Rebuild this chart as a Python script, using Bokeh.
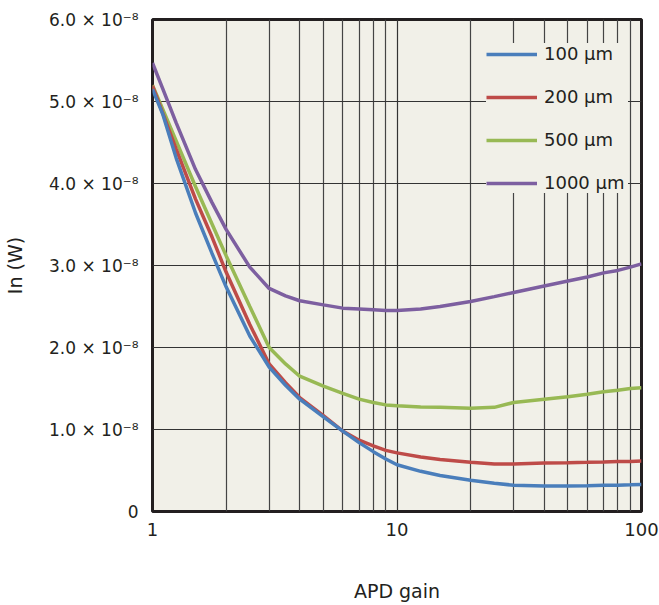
from bokeh.plotting import figure
from bokeh.models import FixedTicker, Legend, LegendItem, Range1d
from bokeh.embed import file_html
from bokeh.resources import INLINE

# APD gain (x, log axis)
gain = [1, 1.1, 1.25, 1.5, 1.75, 2, 2.5, 3, 3.5, 4, 5, 6, 7, 8, 9, 10,
        12.5, 15, 20, 25, 30, 40, 50, 60, 70, 80, 90, 100]

# Noise In, in units of 1e-8 W
in_100um = [5.15, 4.85, 4.31, 3.64, 3.15, 2.74, 2.14, 1.76, 1.54, 1.37, 1.155, 0.98,
            0.84, 0.73, 0.64, 0.57, 0.49, 0.44, 0.38, 0.345, 0.32, 0.31, 0.31, 0.315,
            0.32, 0.32, 0.325, 0.33]
in_200um = [5.19, 4.86, 4.42, 3.81, 3.35, 2.92, 2.28, 1.80, 1.57, 1.39, 1.17, 0.98,
            0.87, 0.80, 0.745, 0.715, 0.665, 0.635, 0.60, 0.58, 0.58, 0.59, 0.595,
            0.60, 0.605, 0.61, 0.61, 0.615]
in_500um = [5.2, 4.91, 4.52, 3.96, 3.51, 3.12, 2.50, 2.0, 1.80, 1.65, 1.53, 1.44,
            1.37, 1.33, 1.30, 1.29, 1.275, 1.27, 1.26, 1.27, 1.33, 1.37, 1.40, 1.43,
            1.46, 1.48, 1.50, 1.51]
in_1000um = [5.47, 5.16, 4.74, 4.17, 3.77, 3.44, 2.98, 2.72, 2.63, 2.57, 2.52, 2.48,
             2.47, 2.46, 2.45, 2.45, 2.47, 2.50, 2.56, 2.62, 2.67, 2.75, 2.81, 2.86,
             2.91, 2.94, 2.98, 3.02]

series_labels = ["100 µm", "200 µm", "500 µm", "1000 µm"]
series_values = [in_100um, in_200um, in_500um, in_1000um]
series_colors = ["#4a7ebb", "#be4b48", "#98b954", "#7d5fa0"]

y_ticks = [0, 1, 2, 3, 4, 5, 6]
y_tick_labels = ["0", "1.0 × 10⁻⁸", "2.0 × 10⁻⁸", "3.0 × 10⁻⁸",
                 "4.0 × 10⁻⁸", "5.0 × 10⁻⁸", "6.0 × 10⁻⁸"]
x_ticks = [1, 10, 100]
x_tick_labels = ["1", "10", "100"]
x_minor_ticks = [2, 3, 4, 5, 6, 7, 8, 9, 20, 30, 40, 50, 60, 70, 80, 90]

FONT = "DejaVu Sans"
BG = "#f1f0e8"
TXT = "#231f20"

p = figure(width=659, height=605, x_axis_type="log",
           x_range=Range1d(1, 100), y_range=Range1d(0, 6),
           output_backend="svg", toolbar_location=None,
           min_border_left=150, min_border_right=18,
           min_border_top=19, min_border_bottom=94)

p.background_fill_color = BG
p.border_fill_color = "white"
p.outline_line_color = TXT
p.outline_line_width = 3

# grids
p.xaxis.ticker = FixedTicker(ticks=x_ticks, minor_ticks=x_minor_ticks)
p.yaxis.ticker = FixedTicker(ticks=y_ticks)
p.xgrid.grid_line_color = "#333333"
p.xgrid.grid_line_width = 1.2
p.xgrid.minor_grid_line_color = "#444444"
p.xgrid.minor_grid_line_width = 1.2
p.ygrid.grid_line_color = "#333333"
p.ygrid.grid_line_width = 1.2

# axes
for ax in (p.xaxis, p.yaxis):
    ax.axis_line_color = None
    ax.major_tick_line_color = None
    ax.minor_tick_line_color = None
    ax.major_label_text_font = FONT
    ax.major_label_text_color = TXT
    ax.axis_label_text_font = FONT
    ax.axis_label_text_font_size = "19px"
    ax.axis_label_text_font_style = "normal"
    ax.axis_label_text_color = TXT

p.xaxis.major_label_text_font_size = "18px"
p.yaxis.major_label_text_font_size = "17px"
p.xaxis.major_label_overrides = {t: l for t, l in zip(x_ticks, x_tick_labels)}
p.yaxis.major_label_overrides = {t: l for t, l in zip(y_ticks, y_tick_labels)}
p.xaxis.major_label_standoff = 5
p.yaxis.major_label_standoff = 8
p.xaxis.axis_label = "APD gain"
p.yaxis.axis_label = "In (W)"
p.xaxis.axis_label_standoff = 41
p.yaxis.axis_label_standoff = 20

renderers = {}
for label, vals, col in reversed(list(zip(series_labels, series_values, series_colors))):
    renderers[label] = p.line(gain, vals, line_color=col, line_width=3.5)

items = [LegendItem(label=l, renderers=[renderers[l]]) for l in series_labels]
legend = Legend(items=items, location=(334, 318),
                label_text_font=FONT, label_text_font_size="18px",
                label_text_color=TXT, glyph_width=51, glyph_height=20,
                label_height=20, label_standoff=7, spacing=22, padding=5,
                label_width=84,
                background_fill_color=BG, background_fill_alpha=1.0,
                border_line_color=None)
p.add_layout(legend)

open("out.html", "w").write(file_html(p, INLINE))
